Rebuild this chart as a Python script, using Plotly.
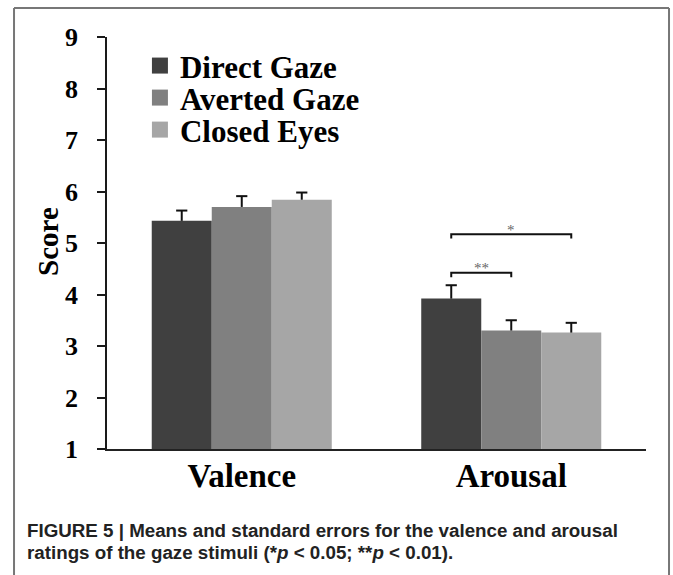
import plotly.graph_objects as go

categories = ["Valence", "Arousal"]
series_names = ["Direct Gaze", "Averted Gaze", "Closed Eyes"]
means = {
    "Direct Gaze": [5.43, 3.92],
    "Averted Gaze": [5.70, 3.30],
    "Closed Eyes": [5.84, 3.26],
}
errors = {
    "Direct Gaze": [0.20, 0.26],
    "Averted Gaze": [0.21, 0.20],
    "Closed Eyes": [0.14, 0.19],
}
colors = ["#404040", "#808080", "#a6a6a6"]
y_ticks = [1, 2, 3, 4, 5, 6, 7, 8, 9]

# significance brackets: (category index, series i, series j, y level, label)
sig_brackets = [
    (1, 0, 1, 4.42, "**"),
    (1, 0, 2, 5.17, "*"),
]

BARGAP = 0.332
n_series = len(series_names)
bar_w = (1 - BARGAP) / n_series
x_pos = list(range(len(categories)))

SERIF = "Liberation Serif"
fig = go.Figure()


def center(cat, s):
    return cat + (s - (n_series - 1) / 2) * bar_w


for i, name in enumerate(series_names):
    fig.add_trace(go.Bar(
        x=x_pos, y=means[name], name=name,
        marker=dict(color=colors[i], line=dict(width=0)),
        showlegend=False, hoverinfo="skip",
    ))

# one-sided (upward) error bars drawn at the bar centres
for i, name in enumerate(series_names):
    xs = [center(c, i) for c in x_pos]
    tops = [m + e for m, e in zip(means[name], errors[name])]
    fig.add_trace(go.Scatter(
        x=xs, y=tops, mode="markers", showlegend=False, hoverinfo="skip",
        marker=dict(symbol="line-ew", size=8, line=dict(color="#111111", width=2)),
        error_y=dict(type="data", symmetric=False, array=[0] * len(xs),
                     arrayminus=errors[name], color="#111111", thickness=2, width=0),
    ))

legend_ids = ["legend", "legend2", "legend3"]
for i, name in enumerate(series_names):
    fig.add_trace(go.Scatter(
        x=[None], y=[None], mode="markers", name=name,
        marker=dict(symbol="square", size=16, color=colors[i]),
        legend=legend_ids[i], showlegend=True,
    ))

for cat, si, sj, yl, lab in sig_brackets:
    xa, xb = center(cat, si), center(cat, sj)
    fig.add_shape(type="path",
                  path=f"M {xa},{yl - 0.085} L {xa},{yl} L {xb},{yl} L {xb},{yl - 0.085}",
                  xref="x", yref="y", line=dict(color="#111111", width=2))
    fig.add_annotation(x=(xa + xb) / 2, y=yl - 0.105, text=lab, showarrow=False,
                       xref="x", yref="y", yanchor="bottom",
                       font=dict(family=SERIF, size=15, color="#666666"))

leg_font = dict(family=SERIF, size=31, color="#000000", weight="bold")
leg_y = [0.9298, 0.8521, 0.7744]
leg_common = dict(x=0.0611, xanchor="left", yanchor="middle", bgcolor="rgba(0,0,0,0)",
                  font=leg_font, borderwidth=0)

fig.update_layout(
    width=673, height=575,
    margin=dict(l=107, r=27, t=37, b=126),
    paper_bgcolor="white", plot_bgcolor="white",
    barmode="group", bargap=BARGAP, bargroupgap=0,
    legend=dict(y=leg_y[0], **leg_common),
    legend2=dict(y=leg_y[1], **leg_common),
    legend3=dict(y=leg_y[2], **leg_common),
    xaxis=dict(range=[-0.5, 1.5], tickvals=x_pos, ticktext=categories,
               showline=True, linecolor="#222222", linewidth=2,
               ticks="", showgrid=False, zeroline=False,
               ticklabelstandoff=-4,
               tickfont=dict(family=SERIF, size=33, color="#000000", weight="bold")),
    yaxis=dict(range=[1, 9], tickvals=y_ticks, showline=True, linecolor="#1a1a1a",
               linewidth=1.5, ticks="outside", ticklen=8, tickwidth=1.5,
               tickcolor="#1a1a1a", showgrid=False, zeroline=False,
               ticklabelstandoff=14,
               tickfont=dict(family=SERIF, size=26, color="#000000", weight="bold")),
)

fig.add_annotation(x=-0.1095, y=0.505, xref="paper", yref="paper", text="Score",
                   textangle=-90, showarrow=False, xanchor="center", yanchor="middle",
                   font=dict(family=SERIF, size=29, color="#000000", weight="bold"))

caption_lines = [
    "FIGURE 5 | Means and standard errors for the valence and arousal",
    "ratings of the gaze stimuli (*<i>p</i> &lt; 0.05; **<i>p</i> &lt; 0.01).",
]
caption_y = [-0.199, -0.2524]
for line, cy in zip(caption_lines, caption_y):
    fig.add_annotation(
        x=-0.1521, y=cy, xref="paper", yref="paper", xanchor="left", yanchor="middle",
        align="left", showarrow=False, text=line,
        font=dict(family="Liberation Sans", size=18.75, color="#222222", weight="bold"))

# outer figure frame (left, top, right edges; bottom runs off the page)
fx0, fx1, fy0, fy1 = -0.1725, 1.0427, -0.34, 1.0704
frame_line = dict(color="#777777", width=2)
for x0, y0, x1, y1 in [(fx0, fy0, fx0, fy1), (fx0, fy1, fx1, fy1), (fx1, fy1, fx1, fy0)]:
    fig.add_shape(type="line", xref="paper", yref="paper", x0=x0, y0=y0, x1=x1, y1=y1,
                  line=frame_line, layer="above")

fig.write_html("out.html", config={"displayModeBar": False},
               post_script="document.body.style.margin='0';document.body.style.overflow='hidden';")
